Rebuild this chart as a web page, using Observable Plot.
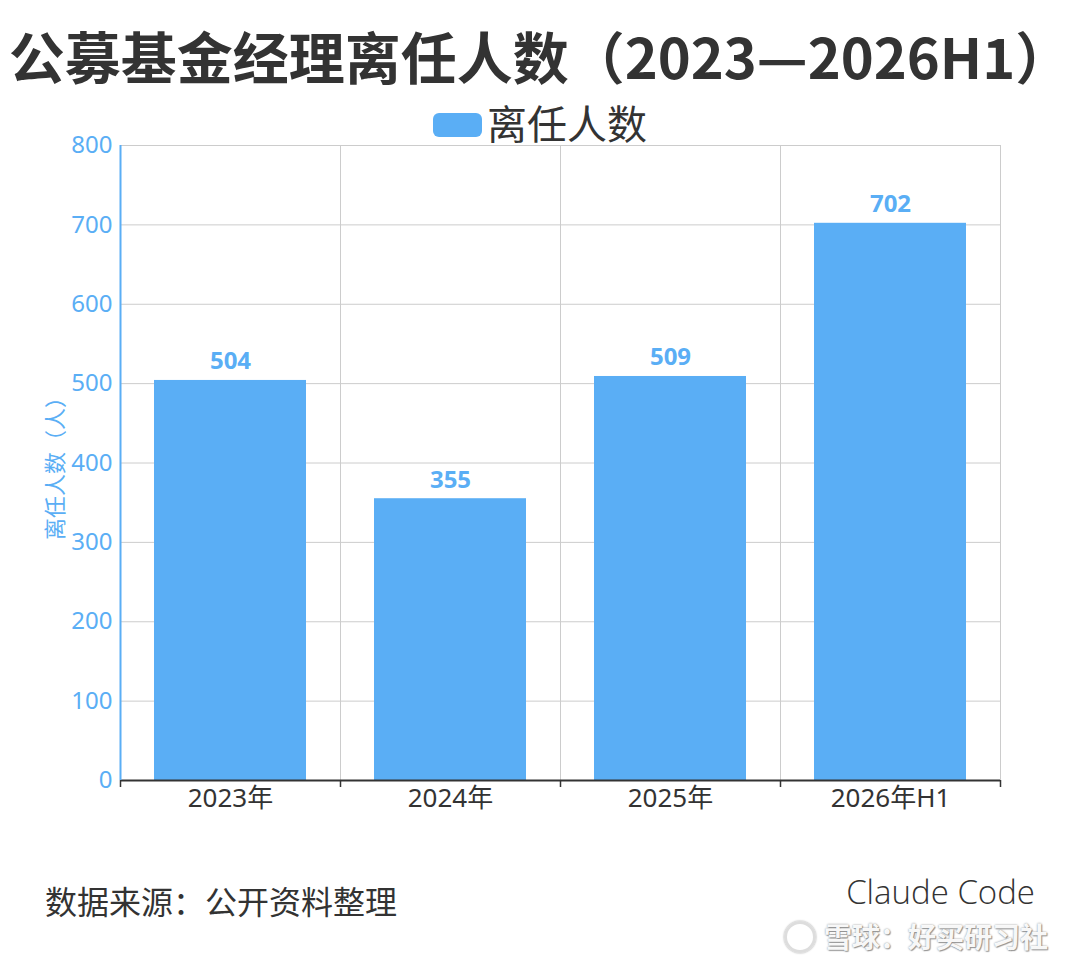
<!DOCTYPE html>
<html>
<head>
<meta charset="utf-8">
<script src="https://cdn.jsdelivr.net/npm/d3@7"></script>
<script src="https://cdn.jsdelivr.net/npm/@observablehq/plot@0.6"></script>
<style>
  html, body { margin: 0; padding: 0; background: #fff; }
  #wrap { position: relative; width: 1080px; height: 960px; overflow: hidden; font-family: "Noto Sans", "Noto Sans CJK SC", sans-serif; }
  #title { position: absolute; left: 0; width: 1080px; top: 26px; text-align: center; font-size: 56px; line-height: 58px; font-weight: 700; color: #333; white-space: nowrap; font-family: "Noto Sans CJK SC", sans-serif; }
  #title span { display: inline-block; }
  #legend { position: absolute; left: 0; width: 1080px; top: 99px; text-align: center; font-size: 40px; line-height: 46px; color: #333; white-space: nowrap; font-family: "Noto Sans CJK SC", sans-serif; }
  #legend .sw { display: inline-block; width: 49px; height: 24px; border-radius: 6px; background: #5aaef5; vertical-align: middle; margin-right: 5px; position: relative; top: -3px; }
  #chart { position: absolute; left: 0; top: 0; }
  #source { position: absolute; left: 45px; top: 883px; font-size: 32px; line-height: 34px; color: #333; font-family: "Noto Sans CJK SC", sans-serif; }
  #brand { position: absolute; right: 45px; top: 875px; font-size: 33px; line-height: 33px; color: #333; font-weight: 300; font-family: "Open Sans", "Noto Sans", sans-serif; }
  #wm { position: absolute; right: 32px; top: 922px; font-size: 28px; line-height: 28px; color: rgba(255,255,255,0.95); font-weight: 700; text-shadow: 0 0 2px #888, 1px 1px 1px #999; font-family: "Noto Sans CJK SC", sans-serif; }
  #wm .logo { display: inline-block; width: 26px; height: 26px; border-radius: 50%; border: 3px solid #ddd; box-shadow: 0 0 2px #999; vertical-align: middle; margin-right: 8px; position: relative; top: -3px; }
</style>
</head>
<body>
<div id="wrap">
  <div id="chart"></div>
  <div id="title"><span>公募基金经理离任人数（2023—2026H1）</span></div>
  <div id="legend"><span class="sw"></span>离任人数</div>
  <div id="source">数据来源：公开资料整理</div>
  <div id="brand">Claude Code</div>
  <div id="wm"><span class="logo"></span>雪球：好买研习社</div>
</div>
<script>
const categories = ["2023年", "2024年", "2025年", "2026年H1"];
const counts = [504, 355, 509, 702];
const yTicks = [0, 100, 200, 300, 400, 500, 600, 700, 800];
const yLabel = "离任人数（人）";

const data = categories.map((c, i) => ({category: c, value: counts[i]}));

const W = 1080, H = 830;
const mL = 120, mR = 80, mT = 145, mB = 50;
const step = (W - mL - mR) / categories.length;
const blue = "#5aaef5";
const font = "'Noto Sans', 'Noto Sans CJK SC', sans-serif";

const chart = Plot.plot({
  width: W,
  height: H,
  marginLeft: mL,
  marginRight: mR,
  marginTop: mT,
  marginBottom: mB,
  style: {fontFamily: font, background: "transparent", overflow: "visible"},
  x: {domain: categories, paddingInner: 0.31, paddingOuter: 0.155, label: null},
  y: {domain: [0, 800], label: null},
  marks: [
    Plot.gridY(yTicks, {stroke: "#cccccc", strokeOpacity: 1, strokeWidth: 1}),
    Plot.ruleX(categories, {x: d => d, dx: step / 2, stroke: "#cccccc", strokeWidth: 1}),
    Plot.barY(data, {x: "category", y: "value", fill: blue}),
    Plot.text(data, {x: "category", y: "value", text: d => String(d.value), dy: -11, lineAnchor: "bottom", fill: blue, fontSize: 24, fontWeight: "bold"}),
    Plot.ruleY([0], {stroke: "#333", strokeWidth: 2}),
    Plot.ruleX(categories, {x: d => d, dx: -step / 2, y1: 0, y2: 0, insetBottom: -7, stroke: "#333", strokeWidth: 1.5}),
    Plot.ruleX([categories[categories.length - 1]], {x: d => d, dx: step / 2, y1: 0, y2: 0, insetBottom: -7, stroke: "#333", strokeWidth: 1.5}),
    Plot.ruleX([categories[0]], {x: d => d, dx: -step / 2, y1: 0, y2: 800, stroke: blue, strokeWidth: 2}),
    Plot.axisY({ticks: yTicks, tickSize: 0, tickPadding: 8, fill: blue, fontSize: 24, label: null, tickFormat: d => String(d)}),
    Plot.axisX({tickSize: 0, tickPadding: 8, fill: "#333", fontSize: 26, label: null}),
    Plot.text([yLabel], {frameAnchor: "left", text: d => d, rotate: -90, dx: -65, fill: blue, fontSize: 22, textAnchor: "middle", fontFamily: "'Noto Sans CJK SC', sans-serif"})
  ]
});
document.getElementById("chart").appendChild(chart);
</script>
</body>
</html>
